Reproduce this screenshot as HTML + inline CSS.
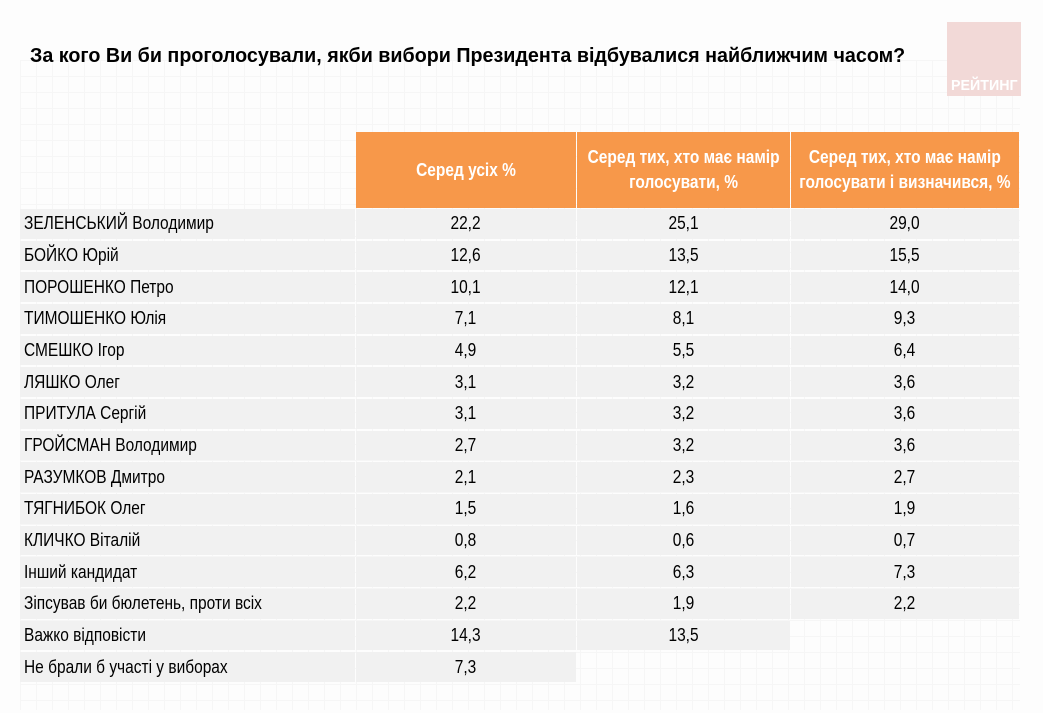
<!DOCTYPE html>
<html><head><meta charset="utf-8">
<style>
body{margin:0;width:1043px;height:713px;background:#fdfdfd;position:relative;overflow:hidden;font-family:"Liberation Sans","DejaVu Sans",sans-serif;}
.bg{position:absolute;left:20px;top:60px;width:1000px;height:650px;background-image:linear-gradient(#f0f0f0 1px,transparent 1px),linear-gradient(90deg,#f0f0f0 1px,transparent 1px);background-size:16px 16px;opacity:.5}
.title{position:absolute;left:30px;top:45px;font-weight:bold;font-size:20px;color:#000;transform:scaleX(0.985);transform-origin:left;white-space:nowrap}
.logo{position:absolute;left:947px;top:22px;width:74px;height:74px;background:#f2d9d7}
.logo span{position:absolute;left:4px;bottom:2px;color:#fff;font-weight:bold;font-size:15px;transform:scaleX(0.95);transform-origin:left}
.c{position:absolute;box-sizing:border-box;display:flex;align-items:center;justify-content:center;font-size:18px;color:#000;background:#f1f1f1;text-align:center}
.c span{display:inline-block;transform:scaleX(0.86);white-space:nowrap}
.l{justify-content:flex-start;padding-left:4px}
.l span{transform-origin:left}
.h{background:#f7984a;color:#fff;font-weight:bold;line-height:25px}
</style></head><body>
<div class="bg"></div>
<div class="title">За кого Ви би проголосували, якби вибори Президента відбувалися найближчим часом?</div>
<div class="logo"><span>РЕЙТИНГ</span></div>
<div id="t"></div>
<script>
const candidates=["ЗЕЛЕНСЬКИЙ Володимир","БОЙКО Юрій","ПОРОШЕНКО Петро","ТИМОШЕНКО Юлія","СМЕШКО Ігор","ЛЯШКО Олег","ПРИТУЛА Сергій","ГРОЙСМАН Володимир","РАЗУМКОВ Дмитро","ТЯГНИБОК Олег","КЛИЧКО Віталій","Інший кандидат","Зіпсував би бюлетень, проти всіх","Важко відповісти","Не брали б участі у виборах"];
const allPct=["22,2","12,6","10,1","7,1","4,9","3,1","3,1","2,7","2,1","1,5","0,8","6,2","2,2","14,3","7,3"];
const votersPct=["25,1","13,5","12,1","8,1","5,5","3,2","3,2","3,2","2,3","1,6","0,6","6,3","1,9","13,5",null];
const decidedPct=["29,0","15,5","14,0","9,3","6,4","3,6","3,6","3,6","2,7","1,9","0,7","7,3","2,2",null,null];
const headers=["Серед усіх %","Серед тих, хто має намір<br>голосувати, %","Серед тих, хто має намір<br>голосувати і визначився, %"];
const t=document.getElementById('t');
const colX=[20,355,576,790,1019];
const top0=132,headH=76,rowH=31.67;
function cell(x,y,w,h,html,cls,name){
  const d=document.createElement('div');
  d.className='c '+cls;
  d.style.left=x+'px';d.style.top=y+'px';d.style.width=w+'px';d.style.height=h+'px';
  d.innerHTML='<span>'+html+'</span>';
  
  
  t.appendChild(d);
}
headers.forEach((h,i)=>cell(colX[i+1]+1,top0,colX[i+2]-colX[i+1]-1,headH,h,'h','column-header-'+(i+1)));
const cols=[allPct,votersPct,decidedPct];
candidates.forEach((c,r)=>{
  const y=top0+headH+r*rowH+1;
  cell(colX[0],y,colX[1]-colX[0],rowH-2,c,'l','row-label');
  cols.forEach((arr,i)=>{
    if(arr[r]!==null) cell(colX[i+1]+1,y,colX[i+2]-colX[i+1]-1,rowH-2,arr[r],'','value-cell');
  });
});
</script>
</body></html>
